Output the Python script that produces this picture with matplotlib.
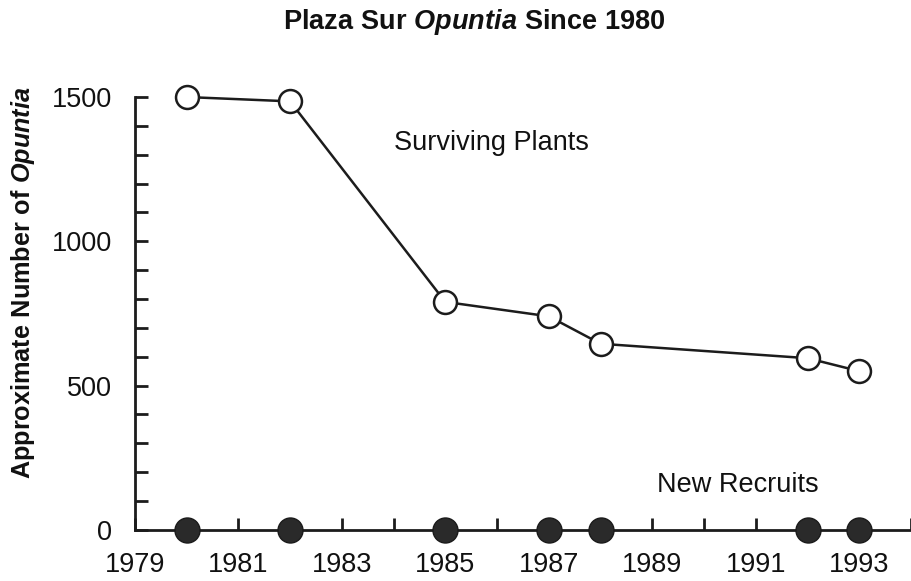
import matplotlib
matplotlib.use("Agg")
import matplotlib.pyplot as plt
from matplotlib.ticker import MultipleLocator

# data
years = [1980, 1982, 1985, 1987, 1988, 1992, 1993]
surviving = [1500, 1485, 790, 740, 645, 595, 550]
recruits = [0, 0, 0, 0, 0, 0, 0]

xlabels = [1979, 1981, 1983, 1985, 1987, 1989, 1991, 1993]
yticks = [0, 500, 1000, 1500]

plt.rcParams["font.family"] = "Liberation Sans"
plt.rcParams["mathtext.fontset"] = "custom"
plt.rcParams["mathtext.bf"] = "Liberation Sans:bold"
plt.rcParams["mathtext.it"] = "Liberation Sans:italic:bold"
plt.rcParams["mathtext.rm"] = "Liberation Sans:bold"

fig = plt.figure(figsize=(9.11, 5.81), dpi=100)
ax = fig.add_axes([0.148, 0.088, 0.852, 0.745])

ink = "#1c1c1c"
ax.plot(years, surviving, "-o", color=ink, lw=1.8, ms=16.5, mfc="white",
        mec=ink, mew=1.8, clip_on=False, zorder=3)
ax.plot(years, recruits, "o", color="#2a2a2a", ms=18, mec="#1a1a1a",
        clip_on=False, zorder=4)

ax.set_xlim(1979, 1994.0)
ax.set_ylim(0, 1500)

for s in ["top", "right"]:
    ax.spines[s].set_visible(False)
for s in ["left", "bottom"]:
    ax.spines[s].set_linewidth(2)
    ax.spines[s].set_color(ink)

ax.set_xticks(xlabels)
ax.set_xticks(range(1980, 1995), minor=True)
ax.set_yticks(yticks)
ax.yaxis.set_minor_locator(MultipleLocator(100))

ax.tick_params(which="both", direction="in", length=9, width=2, color=ink,
               labelsize=19.5, labelcolor="#111111")
ax.tick_params(axis="y", pad=16.5)
ax.tick_params(axis="x", pad=16)

ax.text(1984.0, 1340, "Surviving Plants", fontsize=19.5, va="center",
        color="#111111")
ax.text(1989.1, 156, "New Recruits", fontsize=19.5, va="center",
        color="#111111")

fig.text(0.521, 0.962, r"$\mathbf{Plaza\ Sur}\ \mathit{Opuntia}\ \mathbf{Since\ 1980}$",
         fontsize=19.5, ha="center", va="center", color="#111111")
fig.text(0.025, 0.513, r"$\mathbf{Approximate\ Number\ of}\ \mathit{Opuntia}$",
         fontsize=18.2, ha="center", va="center", rotation=90, color="#111111")

fig.savefig("out.png", dpi=100)
